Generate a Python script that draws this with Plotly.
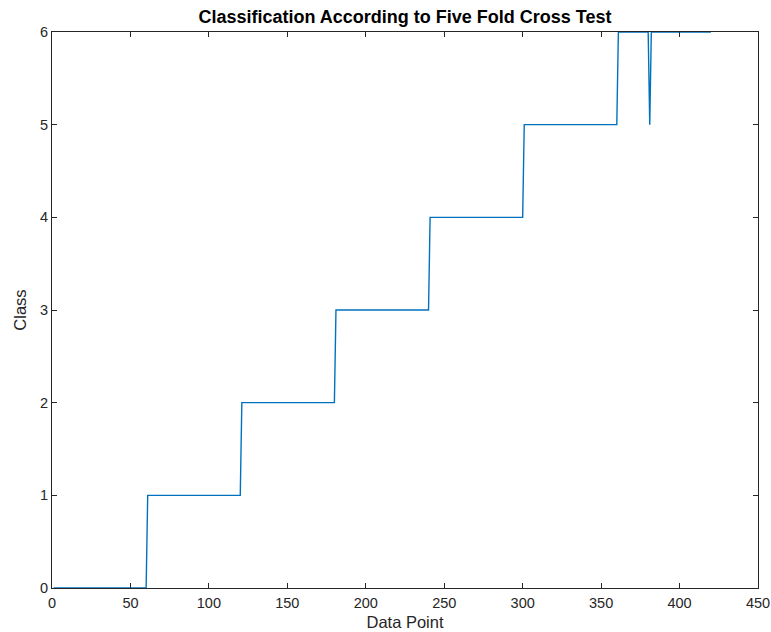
import numpy as np
import plotly.graph_objects as go

# Step runs: class value and number of consecutive data points
run_classes = [0, 1, 2, 3, 4, 5, 6, 5, 6]
run_lengths = [60, 60, 60, 60, 60, 60, 20, 1, 39]

x_ticks = [0, 50, 100, 150, 200, 250, 300, 350, 400, 450]
y_ticks = [0, 1, 2, 3, 4, 5, 6]

classes = []
for c, n in zip(run_classes, run_lengths):
    classes.extend([c] * n)
points = list(range(1, len(classes) + 1))

axis_color = "#262626"
font_family = "Liberation Sans, Arial, Helvetica, sans-serif"

fig = go.Figure()
fig.add_trace(go.Scatter(
    x=points, y=classes, mode="lines",
    line=dict(color="#0072BD", width=1.4),
    showlegend=False,
))

fig.update_layout(
    width=771, height=632, autosize=False,
    margin=dict(l=52, r=13, t=32, b=44, autoexpand=False),
    paper_bgcolor="white", plot_bgcolor="white",
    font=dict(family=font_family, size=14.5, color=axis_color),
    title=dict(
        text="<b>Classification According to Five Fold Cross Test</b>",
        x=(52 + 758) / 2 / 771, xanchor="center",
        y=1 - 17 / 632, yanchor="middle",
        font=dict(family=font_family, size=18, color="#000000"),
    ),
)

axis_common = dict(
    showline=True, linecolor=axis_color, linewidth=1, mirror="ticks",
    ticks="inside", ticklen=5, tickcolor=axis_color, tickwidth=1,
    showgrid=False, zeroline=False, automargin=False,
    tickfont=dict(family=font_family, size=14.5, color=axis_color),
)

fig.update_xaxes(
    range=[0, 450], tickvals=x_ticks, ticktext=[str(v) for v in x_ticks],
    ticklabelstandoff=2,
    title=dict(text="Data Point", standoff=6,
               font=dict(family=font_family, size=16.5, color=axis_color)),
    **axis_common,
)
fig.update_yaxes(
    range=[0, 6], tickvals=y_ticks, ticktext=[str(v) for v in y_ticks],
    title=dict(text="Class", standoff=9,
               font=dict(family=font_family, size=16.5, color=axis_color)),
    **axis_common,
)

fig.write_html("out.html", include_plotlyjs=True, full_html=True,
               default_width="771px", default_height="632px")
